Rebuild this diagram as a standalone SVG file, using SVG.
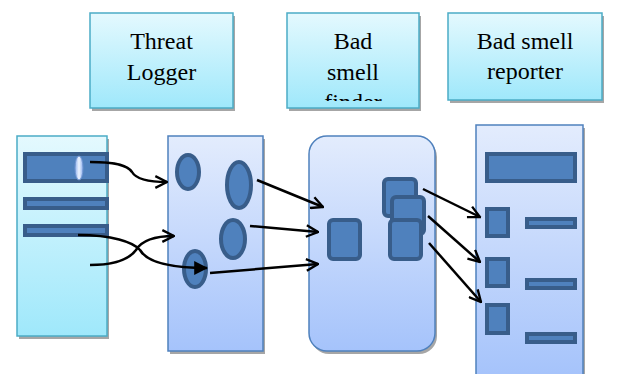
<svg xmlns="http://www.w3.org/2000/svg" width="620" height="374" viewBox="0 0 620 374">
  <defs>
    <linearGradient id="cyanFill" x1="0" y1="0" x2="0" y2="1">
      <stop offset="0" stop-color="#e4f9fe"/>
      <stop offset="1" stop-color="#9fe8fb"/>
    </linearGradient>
    <linearGradient id="blueFill" x1="0" y1="0" x2="0" y2="1">
      <stop offset="0" stop-color="#e3ecfd"/>
      <stop offset="1" stop-color="#a5c3fb"/>
    </linearGradient>
    <linearGradient id="knob" x1="0" y1="0" x2="1" y2="0">
      <stop offset="0" stop-color="#8fb2ee"/>
      <stop offset="0.5" stop-color="#eef4ff"/>
      <stop offset="1" stop-color="#8fb2ee"/>
    </linearGradient>
    <clipPath id="finderClip">
      <rect x="287" y="13" width="132" height="88"/>
    </clipPath>
    <marker id="open" viewBox="0 0 12 12" refX="11" refY="6" markerWidth="14" markerHeight="14" markerUnits="userSpaceOnUse" orient="auto">
      <path d="M1,1 L11,6 L1,11" fill="none" stroke="#000" stroke-width="2"/>
    </marker>
    <marker id="solid" viewBox="0 0 12 12" refX="11" refY="6" markerWidth="14" markerHeight="14" markerUnits="userSpaceOnUse" orient="auto">
      <path d="M0,0 L12,6 L0,12 Z" fill="#000"/>
    </marker>
  </defs>
  <style>
    .shadow { fill: #a6a6a6; }
    .title { fill: url(#cyanFill); stroke: #4bacc6; stroke-width: 1.5; }
    .panelC { fill: url(#cyanFill); stroke: #4bacc6; stroke-width: 1.5; }
    .panelB { fill: url(#blueFill); stroke: #4f81bd; stroke-width: 1.5; }
    .item { fill: #4f81bd; stroke: #385d8a; stroke-width: 4; }
    .bar { fill: #4f81bd; stroke: #385d8a; stroke-width: 4; }
    .label { font-size: 24px; fill: #000; text-anchor: middle; }
    .wire { fill: none; stroke: #000; stroke-width: 2.5; }
  </style>

  <!-- title boxes -->
  <g id="threat-logger-title">
    <rect class="shadow" x="92" y="16" width="143" height="95"/>
    <rect class="title" x="90" y="13" width="143" height="95"/>
    <text class="label" font-family="'Liberation Serif', 'Times New Roman', serif" x="161.5" y="49">Threat</text>
    <text class="label" font-family="'Liberation Serif', 'Times New Roman', serif" x="161.5" y="80">Logger</text>
  </g>
  <g id="bad-smell-finder-title">
    <rect class="shadow" x="289" y="16" width="132" height="95"/>
    <rect class="title" x="287" y="13" width="132" height="95"/>
    <g clip-path="url(#finderClip)">
      <text class="label" font-family="'Liberation Serif', 'Times New Roman', serif" x="353" y="49">Bad</text>
      <text class="label" font-family="'Liberation Serif', 'Times New Roman', serif" x="353" y="80">smell</text>
      <text class="label" font-family="'Liberation Serif', 'Times New Roman', serif" x="353" y="110">finder</text>
    </g>
  </g>
  <g id="bad-smell-reporter-title">
    <rect class="shadow" x="450" y="16" width="154" height="87"/>
    <rect class="title" x="448" y="13" width="154" height="87"/>
    <text class="label" font-family="'Liberation Serif', 'Times New Roman', serif" x="525" y="49">Bad smell</text>
    <text class="label" font-family="'Liberation Serif', 'Times New Roman', serif" x="525" y="79">reporter</text>
  </g>

  <!-- source panel -->
  <g id="source">
    <rect class="shadow" x="19" y="139" width="90" height="200"/>
    <rect class="panelC" x="17" y="136" width="90" height="200"/>
    <rect class="bar" x="25" y="154" width="82" height="27"/>
    <ellipse cx="79" cy="168" rx="4" ry="12" fill="url(#knob)" stroke="#6f94d0" stroke-width="1"/>
    <rect class="bar" x="25" y="199" width="82" height="9"/>
    <rect class="bar" x="25" y="226" width="82" height="9"/>
  </g>

  <!-- threat logger panel -->
  <g id="threat-logger">
    <rect class="shadow" x="170" y="139" width="95" height="215"/>
    <rect class="panelB" x="168" y="136" width="95" height="215"/>
    <ellipse class="item" cx="188" cy="172" rx="11" ry="17"/>
    <ellipse class="item" cx="239" cy="185" rx="12" ry="23"/>
    <ellipse class="item" cx="233" cy="239" rx="12" ry="19"/>
    <ellipse class="item" cx="195" cy="269" rx="11" ry="18"/>
  </g>

  <!-- bad smell finder panel -->
  <g id="bad-smell-finder">
    <rect class="shadow" x="311" y="139" width="126" height="215" rx="18"/>
    <rect class="panelB" x="309" y="136" width="126" height="215" rx="18"/>
    <rect class="item" x="329" y="220" width="31" height="39" rx="4"/>
    <rect class="item" x="384" y="179" width="32" height="37" rx="4"/>
    <rect class="item" x="392" y="197" width="32" height="37" rx="4"/>
    <rect class="item" x="390" y="220" width="31" height="39" rx="4"/>
  </g>

  <!-- bad smell reporter panel -->
  <g id="bad-smell-reporter">
    <rect class="shadow" x="478" y="128" width="107" height="250"/>
    <rect class="panelB" x="476" y="125" width="107" height="252"/>
    <rect class="bar" x="487" y="154" width="88" height="27"/>
    <rect class="item" x="487" y="209" width="21" height="27"/>
    <rect class="item" x="487" y="259" width="21" height="27"/>
    <rect class="item" x="487" y="305" width="21" height="28"/>
    <rect class="bar" x="527" y="219" width="48" height="8"/>
    <rect class="bar" x="527" y="280" width="48" height="8"/>
    <rect class="bar" x="527" y="334" width="48" height="8"/>
  </g>

  <!-- connectors -->
  <g id="connectors">
    <path class="wire" d="M90,162 C118,162 128,166 132,172 C136,179 150,182 167,182" marker-end="url(#open)"/>
    <path class="wire" d="M90,265 C118,265 130,258 136,250 C142,240 155,236 174,236" marker-end="url(#open)"/>
    <path class="wire" d="M78,235 C112,235 133,242 140,250 C147,262 170,268 207,268" marker-end="url(#solid)"/>
    <path class="wire" d="M257,180 L323,207" marker-end="url(#open)"/>
    <path class="wire" d="M250,226 L318,232" marker-end="url(#open)"/>
    <path class="wire" d="M210,273 L318,264" marker-end="url(#open)"/>
    <path class="wire" d="M423,189 L480,217" marker-end="url(#open)"/>
    <path class="wire" d="M428,216 L480,262" marker-end="url(#open)"/>
    <path class="wire" d="M429,243 L481,302" marker-end="url(#open)"/>
  </g>
</svg>
